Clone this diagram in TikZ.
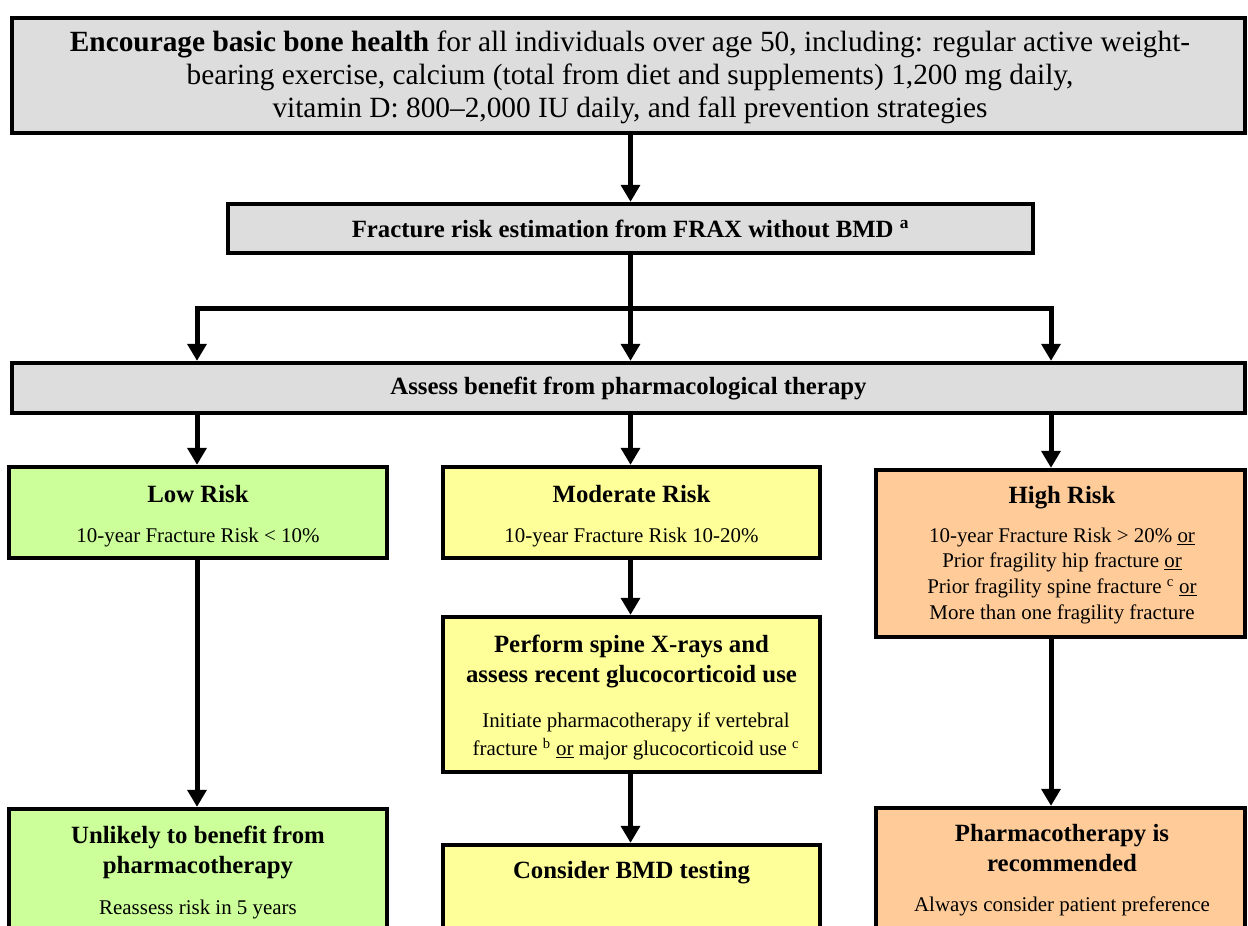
\documentclass[tikz,border=0pt]{standalone}
\usepackage{fontspec}
\setmainfont{Liberation Serif}
\usetikzlibrary{arrows.meta,fit}
\definecolor{boxgray}{HTML}{DDDDDD}
\definecolor{boxgreen}{HTML}{CCFF99}
\definecolor{boxyellow}{HTML}{FFFF99}
\definecolor{boxorange}{HTML}{FFCC99}
\tikzset{
 box/.style={draw=black, line width=3.2pt, inner sep=0pt, rectangle},
 conn/.style={line width=3.75pt, line join=miter, -{Triangle[width=14pt,length=12.75pt]}},
 bigtxt/.style={font=\fontsize{22}{24.8}\selectfont, align=center, inner sep=0pt},
 ttl/.style={font=\bfseries\fontsize{18.6}{22.5}\selectfont, align=center, inner sep=0pt},
 small/.style={font=\fontsize{15.7}{19.25}\selectfont, align=center, inner sep=0pt},
}
\begin{document}
\begin{tikzpicture}[x=0.75pt,y=-0.75pt]
\useasboundingbox (0,0) rectangle (1248,925);
\clip (0,0) rectangle (1248,925);
% boxes
\node[box, fill=boxgray, fit={(12,18) (1245,133)}] (top) {};
\node[box, fill=boxgray, fit={(228,204) (1033,253)}] (frax) {};
\node[box, fill=boxgray, fit={(12,363) (1245,413)}] (assess) {};
\node[box, fill=boxgreen, fit={(9,467) (387,558)}] (low) {};
\node[box, fill=boxyellow, fit={(443,467) (820,558)}] (mod) {};
\node[box, fill=boxorange, fit={(876,470) (1245,637)}] (high) {};
\node[box, fill=boxyellow, fit={(443,617) (820,772)}] (perform) {};
\node[box, fill=boxyellow, fit={(443,845) (820,960)}] (consider) {};
\node[box, fill=boxgreen, fit={(9,809) (387,960)}] (unlikely) {};
\node[box, fill=boxorange, fit={(876,808) (1245,960)}] (pharma) {};
% texts
\node[bigtxt] (topT) at (630,77) {\textbf{Encourage basic bone health} for all individuals over age 50, including: regular active weight-\\bearing exercise, calcium (total from diet and supplements) 1,200 mg daily,\\vitamin D: 800–2,000 IU daily, and fall prevention strategies};
\node[ttl] (fraxT) at (frax.center) {Fracture risk estimation from FRAX without BMD \textsuperscript{a}};
\node[ttl] (assessT) at (assess.center) {Assess benefit from pharmacological therapy};
\node[ttl] (lowT) at (198,494) {Low Risk};
\node[small] (lowB) at (198,537) {10-year Fracture Risk < 10\%};
\node[ttl] (modT) at (631.5,494) {Moderate Risk};
\node[small] (modB) at (631.5,537) {10-year Fracture Risk 10-20\%};
\node[ttl] (highT) at (1062,498) {High Risk};
\node[small] (highB) at (1062,575.5) {10-year Fracture Risk > 20\% \underline{or}\\Prior fragility hip fracture \underline{or}\\Prior fragility spine fracture \textsuperscript{c} \underline{or}\\More than one fragility fracture};
\node[ttl] (performT) at (631.5,661.5) {Perform spine X-rays and\\assess recent glucocorticoid use};
\node[small, font=\fontsize{15.7}{21}\selectfont] (performB) at (636,736) {Initiate pharmacotherapy if vertebral\\fracture \textsuperscript{b} \underline{or} major glucocorticoid use \textsuperscript{c}};
\node[ttl] (considerT) at (631.5,873) {Consider BMD testing};
\node[ttl] (unlikelyT) at (198,852) {Unlikely to benefit from\\pharmacotherapy};
\node[small] (unlikelyB) at (198,909) {Reassess risk in 5 years};
\node[ttl] (pharmaT) at (1062,848) {Pharmacotherapy is\\recommended};
\node[small] (pharmaB) at (1062,906) {Always consider patient preference};
% connectors
\coordinate (jL) at (197,308);
\coordinate (jR) at (1051,308);
\draw[conn] (top.south -| frax.north) -- (frax.north);
\draw[conn] (frax.south) -- (frax.south |- assess.north);
\draw[conn] (frax.south |- jL) -- (jL) -- (jL |- assess.north);
\draw[conn] (frax.south |- jR) -- (jR) -- (jR |- assess.north);
\draw[conn] (assess.south -| jL) -- (jL |- low.north);
\draw[conn] (assess.south -| frax.south) -- (frax.south |- mod.north);
\draw[conn] (assess.south -| jR) -- (jR |- high.north);
\draw[conn] (low.south -| jL) -- (jL |- unlikely.north);
\draw[conn] (mod.south -| frax.south) -- (frax.south |- perform.north);
\draw[conn] (perform.south -| frax.south) -- (frax.south |- consider.north);
\draw[conn] (high.south -| jR) -- (jR |- pharma.north);
\end{tikzpicture}
\end{document}
